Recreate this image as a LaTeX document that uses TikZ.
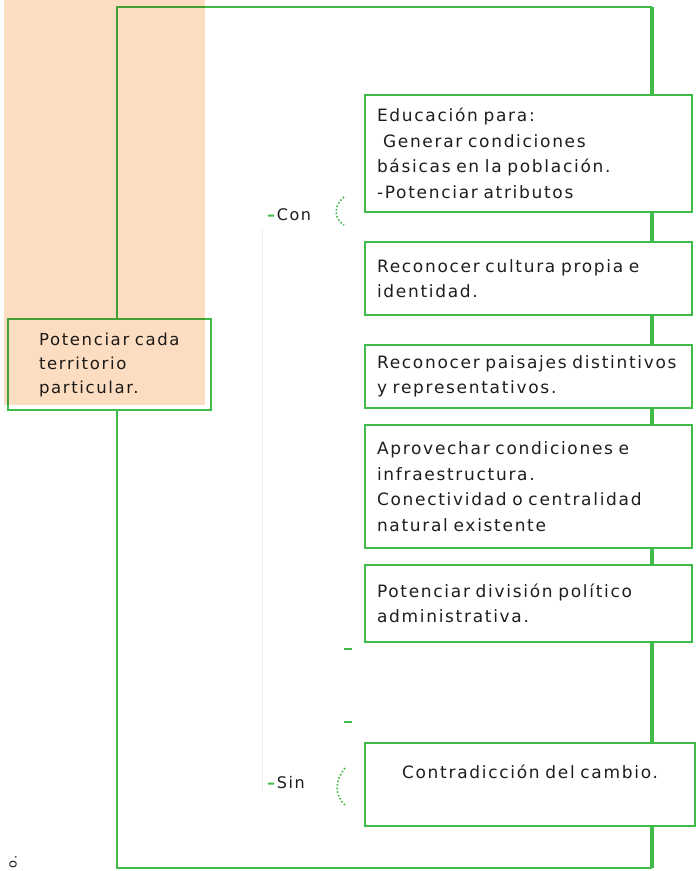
\documentclass[tikz,border=0pt]{standalone}
\usepackage{fontspec}
\setmainfont{DejaVu Sans}[LetterSpace=10]
\definecolor{gr}{RGB}{64,186,72}
\definecolor{peach}{RGB}{252,221,194}
\definecolor{txt}{RGB}{30,30,30}
\begin{document}
\begin{tikzpicture}[x=1pt,y=-1pt,
  rbox/.style={draw=gr,line width=2pt,fill=white,minimum width=327pt,inner xsep=12pt,
    text width=303pt,align=left,font=\fontsize{17}{25.5}\selectfont,text=txt},
  lbl/.style={font=\fontsize{16}{25.5}\selectfont,text=txt,inner sep=0pt,anchor=west},
  brace/.style={draw=gr,dotted,line width=1.6pt},
  tick/.style={draw=gr,line width=2pt}]
\useasboundingbox (0,0) rectangle (699,871);
\fill[white] (0,0) rectangle (699,871);
% faint guide line
\draw[black!6,line width=0.8pt] (262,228) -- (262,792);
% frame
\coordinate (TL) at (117,7);
\coordinate (TR) at (652,7);
\coordinate (BR) at (652,868);
\coordinate (BL) at (117,868);
\draw[gr,line width=2pt] (TR) -- (TL) -- (BL) -- (BR);
\draw[gr,line width=3.5pt] (TR) -- (BR);
% right boxes
\node[rbox,minimum height=117pt] (b1) at (528.5,153.5) {Educación para:\\\hspace{6pt}Generar condiciones\\básicas en la población.\\-Potenciar atributos};
\node[rbox,minimum height=73pt] (b2) at (528.5,278.5) {Reconocer cultura propia e\\identidad.};
\node[rbox,minimum height=63pt] (b3) at (528.5,376.5) {Reconocer paisajes distintivos\\y representativos.};
\node[rbox,minimum height=123pt] (b4) at (528.5,486.5) {Aprovechar condiciones e\\infraestructura.\\Conectividad o centralidad\\natural existente};
\node[rbox,minimum height=77pt] (b5) at (528.5,603.5) {Potenciar división político\\administrativa.};
\node[rbox,minimum height=83pt,minimum width=330pt,align=center] (b6) at (530,784.5) {Contradicción del cambio.\\~};
% left box
\node[draw=gr,line width=2pt,fill=white,minimum width=203pt,minimum height=91pt,
  inner xsep=31pt,text width=141pt,align=left,font=\fontsize{16.5}{24}\selectfont,text=txt]
  (lb) at (109.5,364.5) {Potenciar cada\\territorio\\particular.};
% labels
\node[lbl] (con) at (267,215) {\textcolor{gr}{\textbf{–}}Con};
\node[lbl] (sin) at (267,783) {\textcolor{gr}{\textbf{–}}Sin};
\coordinate (c1) at (344,197); \coordinate (c3) at (344,225);
\draw[brace] (c1) .. controls (334,205) and (333,218) .. (c3);
\coordinate (s1) at (345,768); \coordinate (s3) at (345,805);
\draw[brace] (s1) .. controls (335,780) and (334,795) .. (s3);
\coordinate (d1a) at (344,649); \coordinate (d1b) at (352,649);
\coordinate (d2a) at (344,722); \coordinate (d2b) at (352,722);
\draw[tick] (d1a) -- (d1b);
\draw[tick] (d2a) -- (d2b);
\node[font=\fontsize{13}{13}\selectfont,text=txt,rotate=90,anchor=west,inner sep=0pt] (oo) at (13,869) {o.};
% peach overlay
\fill[peach,blend mode=multiply] (4,0) rectangle (205,405);
\end{tikzpicture}
\end{document}
